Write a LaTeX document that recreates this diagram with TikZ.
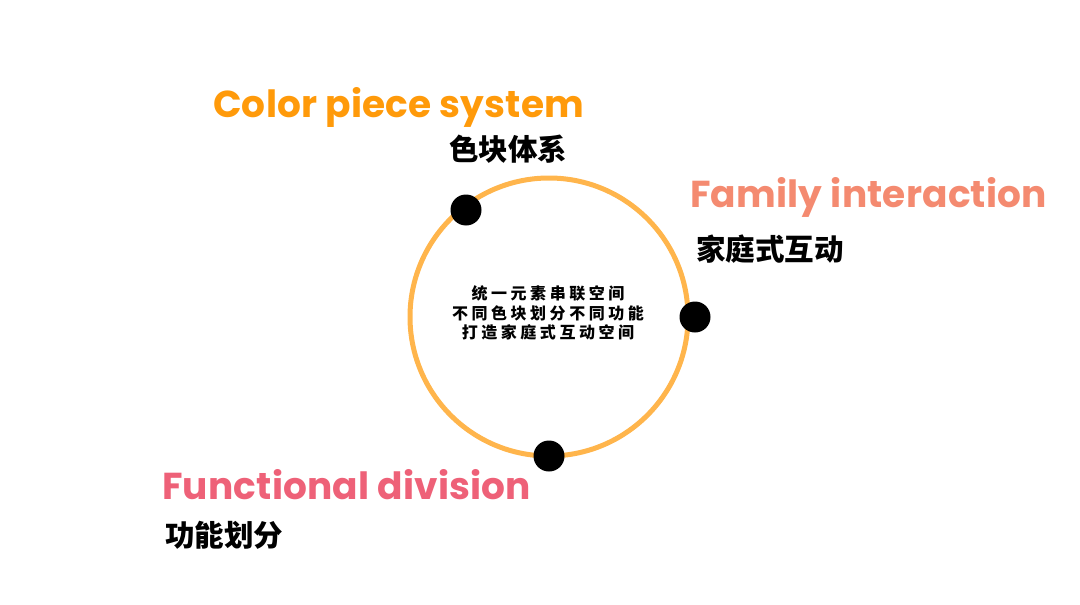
\documentclass[tikz,border=0pt]{standalone}
\usepackage{fontspec}
\setmainfont{Poppins}
\newfontfamily\en[LetterSpace=0.5]{Poppins}
\newfontfamily\cjk{Noto Sans CJK SC}
\newfontfamily\cjksp[LetterSpace=22]{Noto Sans CJK SC}
\definecolor{ringc}{HTML}{FFB54C}
\definecolor{orangec}{HTML}{FF9A0A}
\definecolor{salmonc}{HTML}{F48A70}
\definecolor{pinkc}{HTML}{EE6178}
\tikzset{
  entitle/.style={anchor=base west, inner sep=0pt, font=\en\bfseries\fontsize{37.5}{38}\selectfont},
  zhtitle/.style={anchor=west, inner sep=0pt, text=black, font=\cjk\bfseries\fontsize{29.5}{30}\selectfont},
  dotc/.style={circle, fill=black, minimum size=31pt, inner sep=0pt},
}
\begin{document}
\begin{tikzpicture}[x=1pt,y=-1pt]
\useasboundingbox (0,0) rectangle (1080,605);
\draw[ringc, line width=5pt] (549,317) circle (139);
\node[dotc] (d1) at (466,210) {};
\node[dotc] (d2) at (695,317) {};
\node[dotc] (d3) at (549,456) {};
\node[entitle, text=orangec] (t1) at (213,117) {Color piece system};
\node[zhtitle] (z1) at (449,149) {色块体系};
\node[entitle, text=salmonc] (t2) at (690,207) {Family interaction};
\node[zhtitle] (z2) at (696,249) {家庭式互动};
\node[entitle, text=pinkc] (t3) at (162,499) {Functional division};
\node[zhtitle] (z3) at (165,535) {功能划分};
\node[align=center, inner sep=0pt, font=\cjksp\bfseries\fontsize{16}{19.5}\selectfont] (c) at (548,313) {统一元素串联空间\\不同色块划分不同功能\\打造家庭式互动空间};
\end{tikzpicture}
\end{document}
